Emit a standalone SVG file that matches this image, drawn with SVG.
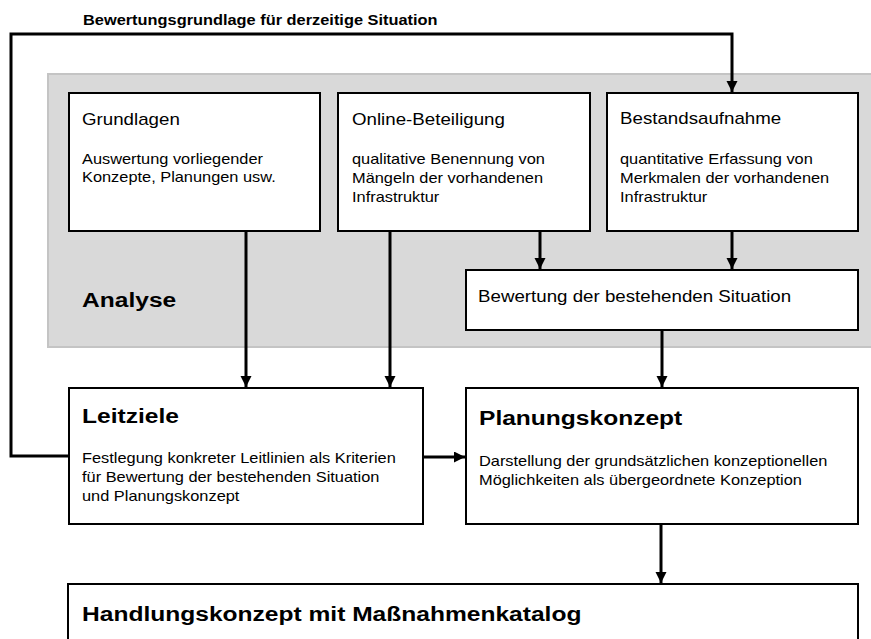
<svg xmlns="http://www.w3.org/2000/svg" width="871" height="639" viewBox="0 0 871 639">
<style>
text{font-family:"Liberation Sans",Arial,sans-serif;fill:#000}
.lbl{font-size:14px;font-weight:bold}
.t{font-size:16px}
.b{font-size:14px}
.h{font-size:21px;font-weight:bold}
.box{fill:#fff;stroke:#000;stroke-width:2}
.c{fill:none;stroke:#000;stroke-width:3}
</style>
<defs>
<marker id="ah" markerWidth="12" markerHeight="12" refX="11" refY="5.5" orient="auto" markerUnits="userSpaceOnUse">
<path d="M0,0 L11,5.5 L0,11 z" fill="#000"/>
</marker>
</defs>
<rect width="871" height="639" fill="#fff"/>
<g id="analyse">
<rect x="48" y="74" width="830" height="273" fill="#d9d9d9" stroke="#c4c4c4" stroke-width="2"/>
<text class="h" transform="translate(82,307) scale(1.17,1)">Analyse</text>
</g>
<g id="connectors">
<text class="lbl" transform="translate(83,25) scale(1.17,1)">Bewertungsgrundlage für derzeitige Situation</text>
<path class="c" d="M69,456 H11 V34 H732 V92" marker-end="url(#ah)"/>
<path class="c" d="M246,231 V387" marker-end="url(#ah)"/>
<path class="c" d="M390,231 V387" marker-end="url(#ah)"/>
<path class="c" d="M540,231 V269" marker-end="url(#ah)"/>
<path class="c" d="M732,231 V269" marker-end="url(#ah)"/>
<path class="c" d="M662,330 V387" marker-end="url(#ah)"/>
<path class="c" d="M423,457 H465" marker-end="url(#ah)"/>
<path class="c" d="M661,524 V583" marker-end="url(#ah)"/>
</g>
<g id="grundlagen">
<rect class="box" x="69" y="93" width="251" height="138"/>
<text class="t" transform="translate(82,125) scale(1.17,1)">Grundlagen</text>
<text class="b" transform="translate(82,164) scale(1.17,1)">Auswertung vorliegender</text>
<text class="b" transform="translate(82,182) scale(1.17,1)">Konzepte, Planungen usw.</text>
</g>
<g id="online">
<rect class="box" x="338" y="93" width="252" height="138"/>
<text class="t" transform="translate(352,125) scale(1.17,1)">Online-Beteiligung</text>
<text class="b" transform="translate(352,164) scale(1.17,1)">qualitative Benennung von</text>
<text class="b" transform="translate(352,183) scale(1.17,1)">Mängeln der vorhandenen</text>
<text class="b" transform="translate(352,202) scale(1.17,1)">Infrastruktur</text>
</g>
<g id="bestand">
<rect class="box" x="607" y="93" width="251" height="138"/>
<text class="t" transform="translate(620,124) scale(1.17,1)">Bestandsaufnahme</text>
<text class="b" transform="translate(620,164) scale(1.17,1)">quantitative Erfassung von</text>
<text class="b" transform="translate(620,183) scale(1.17,1)">Merkmalen der vorhandenen</text>
<text class="b" transform="translate(620,202) scale(1.17,1)">Infrastruktur</text>
</g>
<g id="bewertung">
<rect class="box" x="466" y="270" width="392" height="60"/>
<text class="t" transform="translate(478,302) scale(1.17,1)">Bewertung der bestehenden Situation</text>
</g>
<g id="leitziele">
<rect class="box" x="69" y="388" width="354" height="136"/>
<text class="h" transform="translate(82,423) scale(1.17,1)">Leitziele</text>
<text class="b" transform="translate(82,463) scale(1.17,1)">Festlegung konkreter Leitlinien als Kriterien</text>
<text class="b" transform="translate(82,482) scale(1.17,1)">für Bewertung der bestehenden Situation</text>
<text class="b" transform="translate(82,501) scale(1.17,1)">und Planungskonzept</text>
</g>
<g id="planungskonzept">
<rect class="box" x="466" y="388" width="392" height="136"/>
<text class="h" transform="translate(479,425) scale(1.17,1)">Planungskonzept</text>
<text class="b" transform="translate(479,466) scale(1.17,1)">Darstellung der grundsätzlichen konzeptionellen</text>
<text class="b" transform="translate(479,485) scale(1.17,1)">Möglichkeiten als übergeordnete Konzeption</text>
</g>
<g id="handlungskonzept">
<rect class="box" x="68" y="584" width="790" height="70"/>
<text class="h" transform="translate(82,621) scale(1.17,1)">Handlungskonzept mit Maßnahmenkatalog</text>
</g>
</svg>
